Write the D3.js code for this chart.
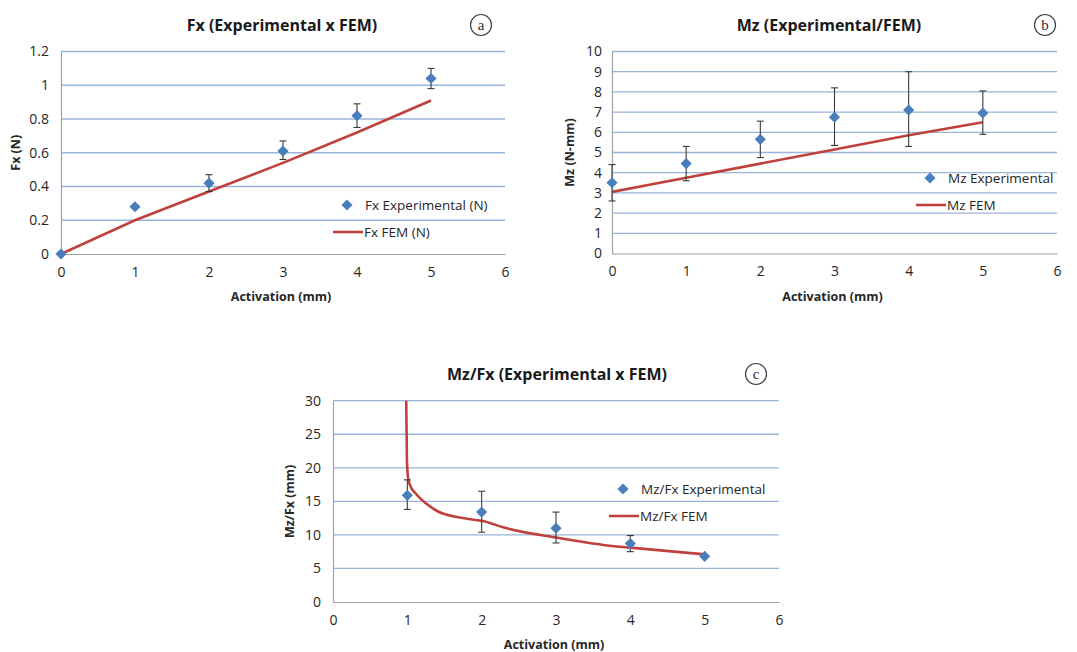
<!DOCTYPE html>
<html>
<head>
<meta charset="utf-8">
<script src="https://cdn.jsdelivr.net/npm/d3@7"></script>
<style>
  html, body { margin: 0; padding: 0; background: #ffffff; }
  svg { display: block; }
  text { font-family: "Open Sans", "Noto Sans", sans-serif; }
</style>
</head>
<body>
<svg id="chart" width="1077" height="652"></svg>
<script>
// ---------------- DATA ----------------
const activation = [0, 1, 2, 3, 4, 5];
const xTicks = [0, 1, 2, 3, 4, 5, 6];

// Panel a: Fx
const fxExp      = [0, 0.28, 0.42, 0.61, 0.82, 1.04];
const fxExpLow   = [0, 0.28, 0.37, 0.56, 0.75, 0.98];
const fxExpHigh  = [0, 0.28, 0.47, 0.67, 0.89, 1.10];
const fxFem      = [0, 0.20, 0.37, 0.54, 0.72, 0.91];
const fxTicks    = [0, 0.2, 0.4, 0.6, 0.8, 1, 1.2];

// Panel b: Mz
const mzExp      = [3.5, 4.45, 5.65, 6.75, 7.1, 6.95];
const mzExpLow   = [2.6, 3.6, 4.75, 5.35, 5.3, 5.9];
const mzExpHigh  = [4.4, 5.3, 6.55, 8.2, 9.0, 8.05];
const mzFem      = [3.05, 3.75, 4.45, 5.15, 5.85, 6.5];
const mzTicks    = [0, 1, 2, 3, 4, 5, 6, 7, 8, 9, 10];

// Panel c: Mz/Fx
const ratioX       = [1, 2, 3, 4, 5];
const ratioExp     = [15.9, 13.4, 11.0, 8.7, 6.8];
const ratioExpLow  = [13.8, 10.4, 8.8, 7.5, 6.8];
const ratioExpHigh = [18.2, 16.5, 13.4, 9.9, 6.8];
const ratioFemX    = [0.985, 0.995, 1.01, 1.04, 1.11, 1.25, 1.42, 1.65, 1.87, 2.0, 2.3, 3.0, 3.64, 4.0, 5.0];
const ratioFemY    = [30, 21, 18.5, 17.3, 16.2, 14.7, 13.45, 12.7, 12.3, 12.1, 11.1, 9.6, 8.5, 8.1, 7.1];
const ratioTicks   = [0, 5, 10, 15, 20, 25, 30];

// ---------------- STYLE ----------------
const GRID = "#9ab5dc";
const AXIS = "#a0a0a0";
const BLUE = "#4a7ebb";
const RED  = "#c0403c";
const TXT  = "#262626";

const svg = d3.select("#chart");
const dia = d3.symbol().type(d3.symbolSquare).size(62);

function panel(cfg) {
  const g = svg.append("g");
  const x = d3.scaleLinear().domain([0, 6]).range([cfg.left, cfg.right]);
  const y = d3.scaleLinear().domain([cfg.ymin, cfg.ymax]).range([cfg.bottom, cfg.top]);

  // gridlines
  g.append("g").selectAll("line").data(cfg.yTicks.filter(v => v !== cfg.ymin)).join("line")
    .attr("x1", cfg.left).attr("x2", cfg.right)
    .attr("y1", d => y(d)).attr("y2", d => y(d))
    .attr("stroke", GRID).attr("stroke-width", 1.3);

  // axes
  const yAx = g.append("g").attr("transform", `translate(${cfg.left},0)`)
    .call(d3.axisLeft(y).tickValues(cfg.yTicks).tickSize(0).tickPadding(cfg.yPad).tickFormat(d3.format("")));
  const xAx = g.append("g").attr("transform", `translate(0,${cfg.bottom})`)
    .call(d3.axisBottom(x).tickValues(xTicks).tickSize(0).tickPadding(13).tickFormat(d3.format("d")));
  [yAx, xAx].forEach(a => {
    a.select(".domain").attr("stroke", AXIS).attr("stroke-width", 1.2);
    a.selectAll("text").attr("fill", TXT).style("font-size", "14px")
      .style("font-family", '"Open Sans", sans-serif');
  });

  // FEM line
  const clipId = "clip" + cfg.id;
  svg.append("clipPath").attr("id", clipId).append("rect")
    .attr("x", cfg.left).attr("y", cfg.top - 1).attr("width", cfg.right - cfg.left).attr("height", cfg.bottom - cfg.top + 1);
  const femPts = cfg.femX.map((v, i) => [v, cfg.femY[i]]);
  g.append("path").datum(femPts)
    .attr("clip-path", `url(#${clipId})`)
    .attr("d", d3.line().x(d => x(d[0])).y(d => y(d[1])).curve(cfg.curve || d3.curveLinear))
    .attr("fill", "none").attr("stroke", RED).attr("stroke-width", 2.6);

  // error bars
  const eb = g.append("g");
  cfg.expX.forEach((v, i) => {
    const lo = cfg.lo[i], hi = cfg.hi[i];
    if (hi - lo <= 0) return;
    const cx = x(v);
    eb.append("line").attr("x1", cx).attr("x2", cx).attr("y1", y(lo)).attr("y2", y(hi))
      .attr("stroke", "#3a3a3a").attr("stroke-width", 1.1);
    [lo, hi].forEach(b => eb.append("line").attr("x1", cx - 3.5).attr("x2", cx + 3.5)
      .attr("y1", y(b)).attr("y2", y(b)).attr("stroke", "#3a3a3a").attr("stroke-width", 1.1));
  });

  // diamonds
  g.append("g").selectAll("path").data(cfg.expX.map((v, i) => [v, cfg.exp[i]])).join("path")
    .attr("transform", d => `translate(${x(d[0])},${y(d[1])}) rotate(45)`)
    .attr("d", dia).attr("fill", BLUE);

  // titles
  g.append("text").attr("x", cfg.titleX).attr("y", cfg.titleY).attr("text-anchor", "middle")
    .attr("font-weight", "bold").style("font-size", "16px").attr("fill", "#1a1a1a").text(cfg.title);
  g.append("circle").attr("cx", cfg.circX).attr("cy", cfg.titleY - 6).attr("r", 10.5)
    .attr("fill", "none").attr("stroke", "#404040").attr("stroke-width", 1.2);
  g.append("text").attr("x", cfg.circX).attr("y", cfg.titleY - 1.5).attr("text-anchor", "middle")
    .style("font-family", '"Liberation Serif", serif').style("font-size", "15px").attr("fill", "#303030").text(cfg.letter);

  g.append("text").attr("x", (cfg.left + cfg.right) / 2 - 2).attr("y", cfg.bottom + 47).attr("text-anchor", "middle")
    .attr("font-weight", "bold").style("font-size", "12.5px").attr("fill", TXT).text("Activation (mm)");
  g.append("text").attr("transform", `translate(${cfg.ylabX},${(cfg.top + cfg.bottom) / 2}) rotate(-90)`)
    .attr("text-anchor", "middle").attr("font-weight", "bold").style("font-size", "12.5px").attr("fill", TXT).text(cfg.ylab);

  // legend
  g.append("path").attr("transform", `translate(${cfg.legX + 14},${cfg.legY}) rotate(45)`).attr("d", dia).attr("fill", BLUE);
  g.append("text").attr("x", cfg.legX + 32).attr("y", cfg.legY + 5).style("font-size", "13.5px").attr("fill", TXT).text(cfg.leg1);
  g.append("line").attr("x1", cfg.legX).attr("x2", cfg.legX + 30).attr("y1", cfg.legY + 27).attr("y2", cfg.legY + 27)
    .attr("stroke", RED).attr("stroke-width", 2.6);
  g.append("text").attr("x", cfg.legX + 31).attr("y", cfg.legY + 32).style("font-size", "13.5px").attr("fill", TXT).text(cfg.leg2);
}

panel({
  id: "a", left: 61, right: 505, top: 51.5, bottom: 254, ymin: 0, ymax: 1.2, yTicks: fxTicks, yPad: 12,
  expX: activation, exp: fxExp, lo: fxExpLow, hi: fxExpHigh, femX: activation, femY: fxFem,
  title: "Fx (Experimental x FEM)", titleX: 282, titleY: 31, circX: 481, letter: "a",
  ylab: "Fx (N)", ylabX: 20, leg1: "Fx Experimental  (N)", leg2: "Fx FEM (N)", legX: 333, legY: 205
});

panel({
  id: "b", left: 612, right: 1057, top: 51.5, bottom: 253.5, ymin: 0, ymax: 10, yTicks: mzTicks, yPad: 10,
  expX: activation, exp: mzExp, lo: mzExpLow, hi: mzExpHigh, femX: activation, femY: mzFem,
  title: "Mz (Experimental/FEM)", titleX: 829, titleY: 31, circX: 1045, letter: "b",
  ylab: "Mz (N-mm)", ylabX: 574, leg1: "Mz Experimental", leg2: "Mz FEM", legX: 916, legY: 178
});

panel({
  id: "c", left: 333, right: 779, top: 400.7, bottom: 602, ymin: 0, ymax: 30, yTicks: ratioTicks, yPad: 12,
  expX: ratioX, exp: ratioExp, lo: ratioExpLow, hi: ratioExpHigh, femX: ratioFemX, femY: ratioFemY,
  curve: d3.curveMonotoneX,
  title: "Mz/Fx (Experimental x FEM)", titleX: 557, titleY: 380, circX: 756, letter: "c",
  ylab: "Mz/Fx (mm)", ylabX: 294, leg1: "Mz/Fx Experimental", leg2: "Mz/Fx FEM", legX: 609, legY: 489
});
</script>
</body>
</html>
